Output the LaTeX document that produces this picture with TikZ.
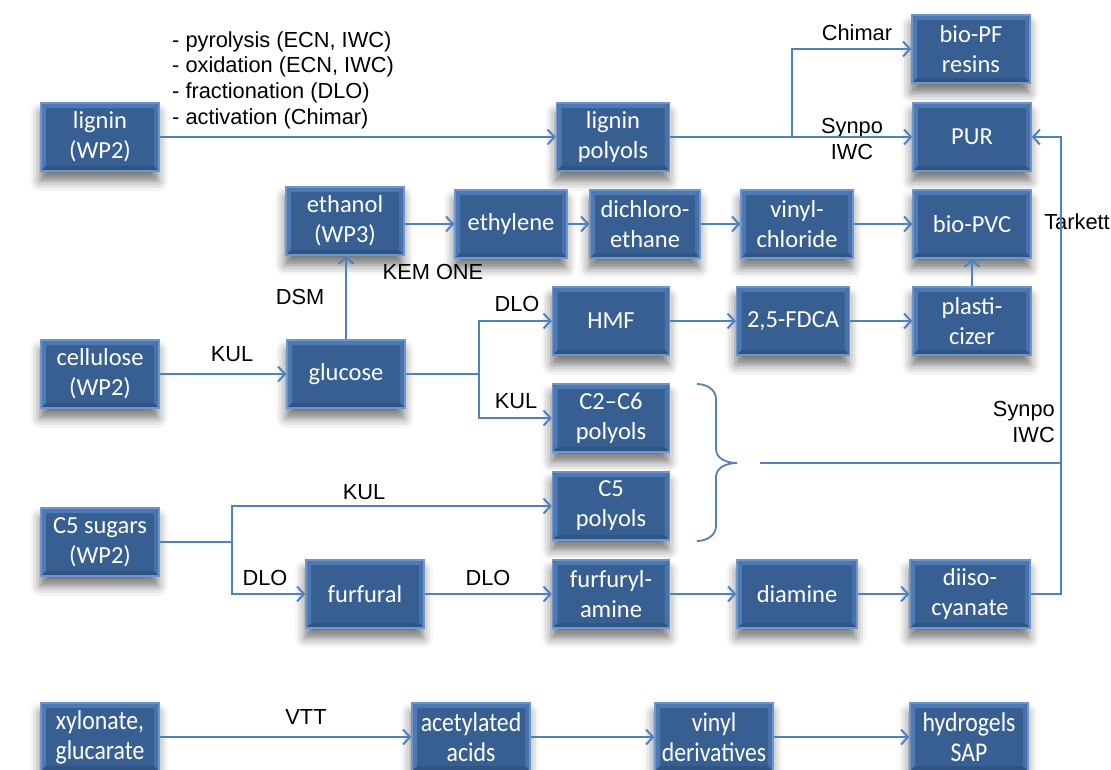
\documentclass[tikz,border=0pt]{standalone}
\usepackage{fontspec}
\setmainfont{Liberation Sans}
\newfontfamily\boxfont{Carlito}
\newfontfamily\narrowfont[FakeStretch=0.88]{Carlito}
\usetikzlibrary{shadows.blur,arrows.meta}
\definecolor{boxfill}{RGB}{56,95,146}
\definecolor{boxedge}{RGB}{110,150,205}
\definecolor{bevlight}{RGB}{78,122,180}
\definecolor{bevdark}{RGB}{48,84,132}
\definecolor{linec}{RGB}{79,129,189}
\tikzset{
  proc/.style={rectangle, fill=boxfill, draw=boxedge, line width=1.2pt,
    minimum width=118, minimum height=68, text=white, align=center, inner sep=0pt,
    font=\boxfont\fontsize{24.5}{30}\selectfont,
    path picture={
      \fill[bevlight] (path picture bounding box.north west) -- (path picture bounding box.south west)
        -- ([xshift=5pt,yshift=5pt]path picture bounding box.south west)
        -- ([xshift=5pt,yshift=-5pt]path picture bounding box.north west) -- cycle;
      \fill[bevlight] (path picture bounding box.north west) -- (path picture bounding box.north east)
        -- ([xshift=-5pt,yshift=-5pt]path picture bounding box.north east)
        -- ([xshift=5pt,yshift=-5pt]path picture bounding box.north west) -- cycle;
      \fill[bevlight!70!boxfill] (path picture bounding box.north east) -- (path picture bounding box.south east)
        -- ([xshift=-5pt,yshift=5pt]path picture bounding box.south east)
        -- ([xshift=-5pt,yshift=-5pt]path picture bounding box.north east) -- cycle;
      \fill[bevdark] (path picture bounding box.south west) -- (path picture bounding box.south east)
        -- ([xshift=-5pt,yshift=5pt]path picture bounding box.south east)
        -- ([xshift=5pt,yshift=5pt]path picture bounding box.south west) -- cycle;
    },
    blur shadow={shadow xshift=-1pt, shadow yshift=-10pt, shadow blur radius=10pt, shadow opacity=55}},
  narrowproc/.style={proc, font=\narrowfont\fontsize{27}{30}\selectfont},
  lbl/.style={font=\fontsize{21.8}{26}\selectfont, text=black, inner sep=0pt, align=center},
  wire/.style={draw=linec, line width=2pt},
  conn/.style={wire, -{Straight Barb[length=7pt,width=15pt,line width=2pt]}}
}
\begin{document}
\begin{tikzpicture}[x=1pt,y=-1pt]
\useasboundingbox (0,0) rectangle (1111,769);
% nodes
\node[proc] (lig) at (100,137) {lignin\\(WP2)};
\node[proc, minimum width=113] (ligp) at (613,137) {lignin\\polyols};
\node[proc] (biopf) at (971,49) {bio-PF\\resins};
\node[proc] (pur) at (972,137) {PUR};
\node[proc] (eth) at (345,221) {ethanol\\(WP3)};
\node[proc, minimum width=112] (ethy) at (511,224) {ethylene};
\node[proc, minimum width=110] (dce) at (645,224) {dichloro-\\ethane};
\node[proc, minimum width=112] (vc) at (797,224) {vinyl-\\chloride};
\node[proc] (pvc) at (972,224) {bio-PVC};
\node[proc, minimum width=117] (hmf) at (611,321) {HMF};
\node[proc, minimum width=113] (fdca) at (793,321) {2,5-FDCA};
\node[proc] (plast) at (972,321) {plasti-\\cizer};
\node[proc] (cell) at (100,374) {cellulose\\(WP2)};
\node[proc] (glu) at (346,374) {glucose};
\node[proc, minimum width=117] (c26) at (611,418) {C2–C6\\polyols};
\node[proc, minimum width=117] (c5p) at (611,506) {C5\\polyols};
\node[proc] (c5s) at (100,542) {C5 sugars\\(WP2)};
\node[proc] (furf) at (365,594) {furfural};
\node[proc, minimum width=117] (fam) at (611,594) {furfuryl-\\amine};
\node[proc, minimum width=120] (diam) at (797,594) {diamine};
\node[proc, minimum width=120] (diiso) at (970,594) {diiso-\\cyanate};
\node[narrowproc] (xyl) at (100,737) {xylonate,\\glucarate};
\node[narrowproc] (acet) at (471,737) {acetylated\\acids};
\node[narrowproc] (vinyld) at (714,737) {vinyl\\derivatives};
\node[narrowproc] (hyd) at (969,737) {hydrogels\\SAP};
% labels
\node[lbl, anchor=north west, align=left, font=\fontsize{21.8}{25.7}\selectfont] (procs) at (172,31)
  {- pyrolysis (ECN, IWC)\\- oxidation (ECN, IWC)\\- fractionation (DLO)\\- activation (Chimar)};
\node[lbl] (lchimar) at (857,33) {Chimar};
\node[lbl] (lsynpo1) at (852,139) {Synpo\\IWC};
\node[lbl] (lkem) at (433,272) {KEM ONE};
\node[lbl] (ltark) at (1077,222) {Tarkett};
\node[lbl] (ldsm) at (300,297) {DSM};
\node[lbl] (lkul1) at (232,354) {KUL};
\node[lbl] (ldlo1) at (517,304) {DLO};
\node[lbl] (lkul2) at (516,401) {KUL};
\node[lbl] (lkul3) at (364,492) {KUL};
\node[lbl] (ldlo2) at (265,578) {DLO};
\node[lbl] (ldlo3) at (488,578) {DLO};
\node[lbl, anchor=east, align=right] (lsynpo2) at (1055,422) {Synpo\\IWC};
\node[lbl] (lvtt) at (306,717) {VTT};
% junctions
\coordinate (j1) at (792,137);
\coordinate (j2) at (479,374);
\coordinate (j3) at (232,542);
\coordinate (r1) at (1061,137);
\coordinate (m1) at (760,463);
\coordinate (m2) at (1061,463);
% connectors
\draw[conn] (lig) -- (ligp);
\draw[conn] (ligp) -- (pur);
\draw[conn] (j1) |- (biopf.west);
\draw[conn] (eth.east |- ethy) -- (ethy);
\draw[conn] (ethy) -- (dce);
\draw[conn] (dce) -- (vc);
\draw[conn] (vc) -- (pvc);
\draw[conn] (plast) -- (pvc);
\draw[conn] (glu.north) -- (glu.north |- eth.south);
\draw[conn] (cell) -- (glu);
\draw[wire] (glu.east) -- (j2);
\draw[conn] (j2) |- (hmf.west);
\draw[conn] (j2) |- (c26.west);
\draw[conn] (hmf) -- (fdca);
\draw[conn] (fdca) -- (plast);
\draw[wire] (c5s.east) -- (j3);
\draw[conn] (j3) |- (c5p.west);
\draw[conn] (j3) |- (furf.west);
\draw[conn] (furf) -- (fam);
\draw[conn] (fam) -- (diam);
\draw[conn] (diam) -- (diiso);
\draw[conn] (diiso.east) -| (r1) -- (pur.east);
\draw[wire] (m1) -- (m2);
\draw[conn] (xyl) -- (acet);
\draw[conn] (acet) -- (vinyld);
\draw[conn] (vinyld) -- (hyd);
% brace
\draw[wire, line width=1.8pt] (697,384) to[out=0,in=90] (716,399) -- (716,449)
  to[out=270,in=180] (737,463) to[out=180,in=90] (716,477) -- (716,526)
  to[out=270,in=0] (697,541);
\end{tikzpicture}
\end{document}
